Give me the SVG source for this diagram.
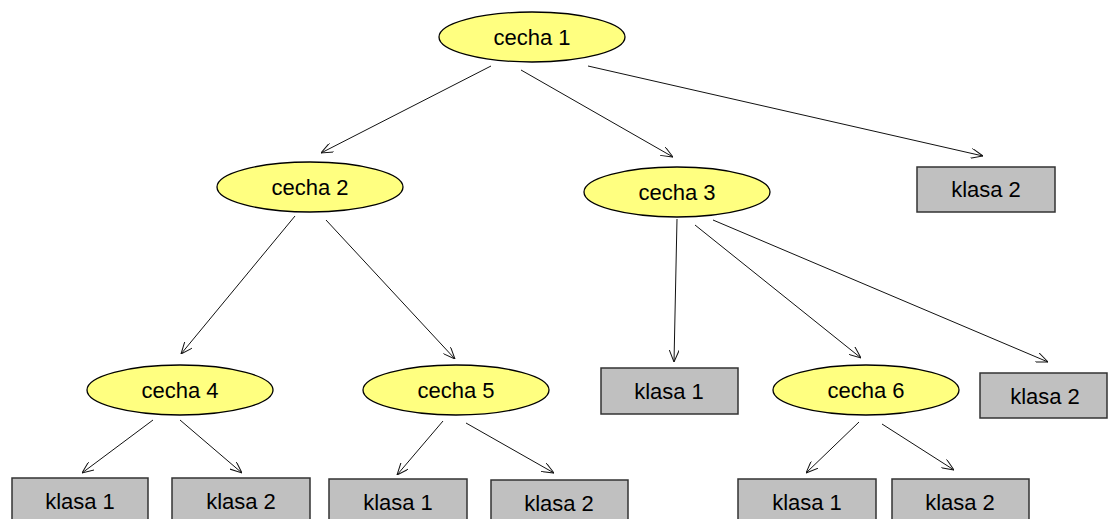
<svg xmlns="http://www.w3.org/2000/svg" width="1108" height="519" viewBox="0 0 1108 519">
  <style>
    .feat ellipse { fill: #ffff80; stroke: #000; stroke-width: 1.3; }
    .leaf rect { fill: #c0c0c0; stroke: #333; stroke-width: 1.5; }
    text { font-family: "Liberation Sans", Arial, sans-serif; font-size: 22px; fill: #000; text-anchor: middle; }
    .edges line { stroke: #111; stroke-width: 1; marker-end: url(#arrow); }
  </style>
  <defs>
    <marker id="arrow" viewBox="0 0 12 10" refX="12" refY="5" markerWidth="12" markerHeight="10" markerUnits="userSpaceOnUse" orient="auto">
      <path d="M0,0 L12,5 L0,10" fill="none" stroke="#111" stroke-width="1"/>
    </marker>
  </defs>
  <rect width="1108" height="519" fill="#fff"/>

  <!-- connectors -->
  <g class="edges" id="edges">
    <line x1="491" y1="66" x2="321" y2="153"/>
    <line x1="521" y1="70" x2="673" y2="157"/>
    <line x1="588" y1="66" x2="983" y2="156"/>
    <line x1="295" y1="216" x2="181" y2="354"/>
    <line x1="326" y1="220" x2="455" y2="359"/>
    <line x1="677" y1="219" x2="674" y2="362"/>
    <line x1="695" y1="225" x2="861" y2="358"/>
    <line x1="713" y1="220" x2="1048" y2="362"/>
    <line x1="153" y1="420" x2="82" y2="473"/>
    <line x1="180" y1="420" x2="242" y2="473"/>
    <line x1="443" y1="421" x2="397" y2="475"/>
    <line x1="466" y1="423" x2="554" y2="473"/>
    <line x1="859" y1="422" x2="806" y2="473"/>
    <line x1="882" y1="424" x2="954" y2="470"/>
  </g>

  <!-- feature nodes -->
  <g id="cecha1" class="feat"><ellipse cx="532" cy="37" rx="93" ry="25"/><text x="532" y="45">cecha 1</text></g>
  <g id="cecha2" class="feat"><ellipse cx="310" cy="187" rx="93" ry="25"/><text x="310" y="195">cecha 2</text></g>
  <g id="cecha3" class="feat"><ellipse cx="677" cy="192" rx="93" ry="25"/><text x="677" y="200">cecha 3</text></g>
  <g id="cecha4" class="feat"><ellipse cx="180" cy="390" rx="93" ry="25"/><text x="180" y="398">cecha 4</text></g>
  <g id="cecha5" class="feat"><ellipse cx="456" cy="390" rx="93" ry="25"/><text x="456" y="398">cecha 5</text></g>
  <g id="cecha6" class="feat"><ellipse cx="866" cy="390" rx="93" ry="25"/><text x="866" y="398">cecha 6</text></g>

  <!-- class leaves -->
  <g id="leaf-c1" class="leaf"><rect x="917" y="167" width="138" height="45"/><text x="986" y="197">klasa 2</text></g>
  <g id="leaf-c3a" class="leaf"><rect x="601" y="368" width="137" height="46"/><text x="669" y="399">klasa 1</text></g>
  <g id="leaf-c3c" class="leaf"><rect x="980" y="373" width="127" height="45"/><text x="1045" y="404">klasa 2</text></g>
  <g id="leaf-c4a" class="leaf"><rect x="12" y="478" width="136" height="46"/><text x="80" y="509">klasa 1</text></g>
  <g id="leaf-c4b" class="leaf"><rect x="172" y="478" width="138" height="46"/><text x="241" y="509">klasa 2</text></g>
  <g id="leaf-c5a" class="leaf"><rect x="329" y="479" width="138" height="46"/><text x="398" y="510">klasa 1</text></g>
  <g id="leaf-c5b" class="leaf"><rect x="491" y="480" width="137" height="46"/><text x="559" y="511">klasa 2</text></g>
  <g id="leaf-c6a" class="leaf"><rect x="738" y="479" width="138" height="46"/><text x="807" y="510">klasa 1</text></g>
  <g id="leaf-c6b" class="leaf"><rect x="892" y="479" width="137" height="46"/><text x="960" y="510">klasa 2</text></g>
</svg>
